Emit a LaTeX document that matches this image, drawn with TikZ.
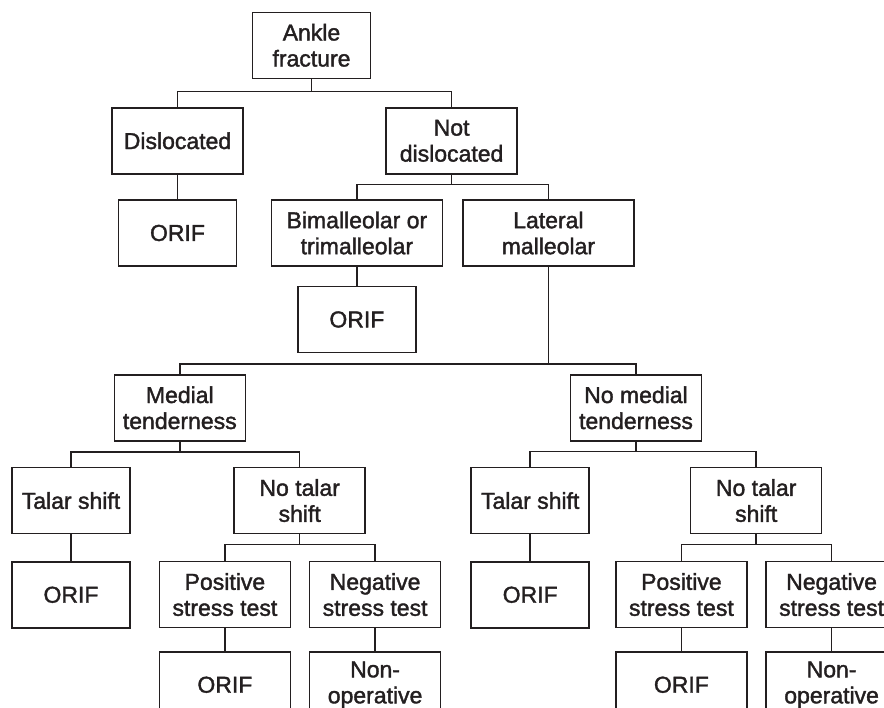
\documentclass[tikz,border=0pt]{standalone}
\usepackage{fontspec}
\setmainfont{Liberation Sans}
\newfontfamily\boxfont{Liberation Sans}[RawFeature={embolden=1.6}]
\usetikzlibrary{positioning}
\definecolor{ink}{HTML}{231F20}

\tikzset{
  box/.style={draw=ink, text=ink, line width=1.5pt, minimum width=131pt,
    minimum height=66pt, inner sep=0pt, align=center,
    font=\boxfont\fontsize{23}{26}\selectfont},
  narrow/.style={box, minimum width=118pt},
  broad/.style={box, minimum width=171pt},
  link/.style={draw=ink, line width=1.5pt}
}

\begin{document}
\begin{tikzpicture}[x=1pt, y=1pt]

\useasboundingbox (0,0) rectangle (884,-708);
\clip (0,0) rectangle (884,-708);

\node[narrow]		(ankle)		at (311.5,-45.3)	{Ankle\\fracture};
\node[box, below left = 28pt and 8pt of ankle]		(disl)		{Dislocated};
\node[box, right = 141.6pt of disl]		(notdisl)		{Not\\dislocated};
\node[narrow, below = 24.7pt of disl]		(orif_d)		{ORIF};
\node[broad, below = 24.7pt of notdisl, xshift=-94.7pt]		(bimal)		{Bimalleolar or\\trimalleolar};
\node[broad, right = 19pt of bimal]		(lat)		{Lateral\\malleolar};
\node[narrow, below = 19pt of bimal]		(orif_b)		{ORIF};

% medial side
\node[box]		(med)		at (179.8,-407.8)	{Medial\\tenderness};
\node[narrow, below = 25.3pt of med, xshift=-108.8pt]		(talar_m)		{Talar shift};
\node[box, right = 102.7pt of talar_m]		(notalar_m)		{No talar\\shift};
\node[narrow, below = 26.7pt of talar_m]		(orif_tm)		{ORIF};
\node[box, below = 26.5pt of notalar_m, xshift=-74.8pt]		(pos_m)		{Positive\\stress test};
\node[box, right = 17.7pt of pos_m]		(neg_m)		{Negative\\stress test};
\node[box, below = 22.7pt of pos_m]		(orif_pm)		{ORIF};
\node[box, below = 22.7pt of neg_m]		(nonop_m)		{Non-\\operative};

% no medial side
\node[box, right = 323.7pt of med]		(nomed)		{No medial\\tenderness};
\node[narrow, below = 25.3pt of nomed, xshift=-105.8pt]		(talar_n)		{Talar shift};
\node[box, right = 100pt of talar_n]		(notalar_n)		{No talar\\shift};
\node[narrow, below = 26.7pt of talar_n]		(orif_tn)		{ORIF};
\node[box, below = 26.5pt of notalar_n, xshift=-74.8pt]		(pos_n)		{Positive\\stress test};
\node[box, right = 17.7pt of pos_n]		(neg_n)		{Negative\\stress test};
\node[box, below = 22.7pt of pos_n]		(orif_pn)		{ORIF};
\node[box, below = 22.7pt of neg_n]		(nonop_n)		{Non-\\operative};

\draw[link] (ankle.south) -- ++(0,-12.4) -| (disl.north);
\draw[link] (ankle.south) -- ++(0,-12.4) -| (notdisl.north);
\draw[link] (disl) -- (orif_d);
\draw[link] (notdisl.south) -- ++(0,-10) -| (bimal.north);
\draw[link] (notdisl.south) -- ++(0,-10) -| (lat.north);
\draw[link] (bimal) -- (orif_b);
\draw[link] (lat.south) -- ++(0,-97.4) -| (med.north);
\draw[link] (lat.south) -- ++(0,-97.4) -| (nomed.north);

\draw[link] (med.south) -- ++(0,-10.7) -| (talar_m.north);
\draw[link] (med.south) -- ++(0,-10.7) -| (notalar_m.north);
\draw[link] (talar_m) -- (orif_tm);
\draw[link] (notalar_m.south) -- ++(0,-10) -| (pos_m.north);
\draw[link] (notalar_m.south) -- ++(0,-10) -| (neg_m.north);
\draw[link] (pos_m) -- (orif_pm);
\draw[link] (neg_m) -- (nonop_m);

\draw[link] (nomed.south) -- ++(0,-10) -| (talar_n.north);
\draw[link] (nomed.south) -- ++(0,-10) -| (notalar_n.north);
\draw[link] (talar_n) -- (orif_tn);
\draw[link] (notalar_n.south) -- ++(0,-10) -| (pos_n.north);
\draw[link] (notalar_n.south) -- ++(0,-10) -| (neg_n.north);
\draw[link] (pos_n) -- (orif_pn);
\draw[link] (neg_n) -- (nonop_n);

\end{tikzpicture}
\end{document}
